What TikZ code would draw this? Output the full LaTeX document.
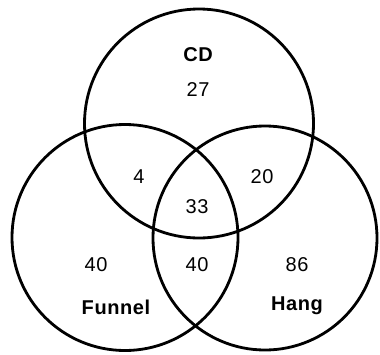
\documentclass[tikz,border=0pt]{standalone}
\usepackage{fontspec}
\setmainfont{Liberation Sans}[LetterSpace=3]
\begin{document}
\begin{tikzpicture}[x=1pt,y=-1pt,
  ring/.style={draw=black,line width=2.8pt},
  num/.style={inner sep=0pt,text depth=0pt,font=\fontsize{20}{24}\selectfont},
  lab/.style={inner sep=0pt,text depth=0pt,font=\fontsize{20}{24}\selectfont\bfseries}]
\useasboundingbox (0,0) rectangle (380,354);
\draw[ring] (199,123.5) circle[radius=114.5];
\draw[ring] (125,237.5) circle[radius=113];
\draw[ring] (265,238) circle[radius=112];
\node[lab] (cd) at (198,55) {CD};
\node[num] (n27) at (198,90) {27};
\node[num] (n4) at (139,177) {4};
\node[num] (n20) at (262,177) {20};
\node[num] (n33) at (197,207) {33};
\node[num] (n40a) at (96,265) {40};
\node[num] (n40b) at (197,265) {40};
\node[num] (n86) at (297,265) {86};
\node[lab] (funnel) at (116,307) {Funnel};
\node[lab] (hang) at (297,304) {Hang};
\end{tikzpicture}
\end{document}
